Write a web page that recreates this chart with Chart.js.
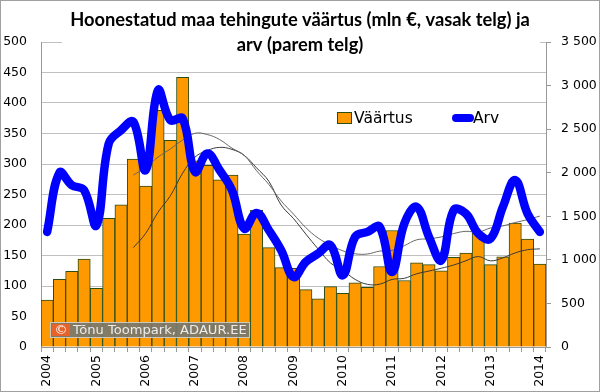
<!DOCTYPE html>
<html>
<head>
<meta charset="utf-8">
<script src="https://cdn.jsdelivr.net/npm/chart.js@4"></script>
<style>
  html, body { margin: 0; padding: 0; background: #fff; }
  #wrap { width: 600px; height: 392px; }
</style>
</head>
<body>
<div id="wrap"><canvas id="chart" width="600" height="392"></canvas></div>
<script>
// quarters 2004 Q1 .. 2014 Q1
const quarters = [
  '2004 Q1','2004 Q2','2004 Q3','2004 Q4',
  '2005 Q1','2005 Q2','2005 Q3','2005 Q4',
  '2006 Q1','2006 Q2','2006 Q3','2006 Q4',
  '2007 Q1','2007 Q2','2007 Q3','2007 Q4',
  '2008 Q1','2008 Q2','2008 Q3','2008 Q4',
  '2009 Q1','2009 Q2','2009 Q3','2009 Q4',
  '2010 Q1','2010 Q2','2010 Q3','2010 Q4',
  '2011 Q1','2011 Q2','2011 Q3','2011 Q4',
  '2012 Q1','2012 Q2','2012 Q3','2012 Q4',
  '2013 Q1','2013 Q2','2013 Q3','2013 Q4',
  '2014 Q1'
];

// Väärtus, mln € (left axis)
const vaartus = [
  77, 111, 124, 144,
  96, 211, 233, 308,
  264, 388, 339, 442,
  305, 298, 274, 282,
  185, 224, 163, 130,
  129, 94, 79, 99,
  88, 105, 98, 132,
  191, 109, 138, 135,
  125, 147, 154, 187,
  135, 148, 203, 177,
  136
];

// Arv, tehingute arv (right axis)
const arv = [
  1321, 2000, 1857, 1800,
  1397, 2335, 2488, 2584,
  2029, 2948, 2603, 2622,
  2010, 2220, 2029, 1800,
  1359, 1539, 1340, 1110,
  804, 976, 1072, 1168,
  823, 1263, 1321, 1378,
  861, 1417, 1608, 1263,
  995, 1570, 1531, 1302,
  1244, 1608, 1914, 1531,
  1321
];

const leftTicks = [0, 50, 100, 150, 200, 250, 300, 350, 400, 450, 500];
const rightTicks = [0, 500, 1000, 1500, 2000, 2500, 3000, 3500];

const titleLines = ['Hoonestatud maa tehingute väärtus (mln €, vasak telg) ja', 'arv (parem telg)'];
const watermark = 'Tõnu Toompark, ADAUR.EE';

// Excel style 8 period moving average trendline
function movingAvg(arr, n) {
  return arr.map((v, i) => {
    if (i < n - 1) return null;
    let s = 0;
    for (let k = i - n + 1; k <= i; k++) s += arr[k];
    return s / n;
  });
}

const tickFont = { family: 'DejaVu Sans', size: 12.5 };

function fmtSpace(v) {
  if (v < 1000) return String(v);
  return Math.floor(v / 1000) + ' ' + String(v % 1000).padStart(3, '0');
}

const extras = {
  id: 'extras',
  afterDraw(chart) {
    const ctx = chart.ctx;
    ctx.save();

    // title box covers top gridline
    ctx.fillStyle = '#fff';
    ctx.fillRect(62, 1, 478, 56);
    ctx.fillStyle = '#000';
    ctx.font = 'bold 16px Lato';
    let tw = ctx.measureText(titleLines[0]).width;
    ctx.font = 'bold ' + (16 * 460 / tw) + 'px Lato';
    ctx.textAlign = 'center';
    ctx.textBaseline = 'middle';
    ctx.fillText(titleLines[0], 300, 20);
    ctx.fillText(titleLines[1], 300, 45);

    // legend
    ctx.fillStyle = '#FF9900';
    ctx.strokeStyle = '#2a4d14';
    ctx.lineWidth = 1;
    ctx.fillRect(337.5, 112.5, 14, 11);
    ctx.strokeRect(337.5, 112.5, 14, 11);
    ctx.fillStyle = '#000';
    ctx.font = '15.5px "DejaVu Sans"';
    ctx.textAlign = 'left';
    ctx.textBaseline = 'middle';
    ctx.fillText(chart.data.datasets[3].label, 354, 118.5);
    ctx.strokeStyle = '#0000FF';
    ctx.lineWidth = 8;
    ctx.lineCap = 'round';
    ctx.beginPath();
    ctx.moveTo(456, 118);
    ctx.lineTo(470, 118);
    ctx.stroke();
    ctx.fillText(chart.data.datasets[0].label, 473, 118.5);

    // copyright stamp
    ctx.fillStyle = 'rgba(120,120,110,0.92)';
    ctx.fillRect(50, 322, 200, 16);
    ctx.strokeStyle = '#c9c9c0';
    ctx.lineWidth = 1;
    ctx.strokeRect(50.5, 322.5, 199, 15);
    ctx.fillStyle = '#e8632b';
    ctx.fillRect(52, 324, 18, 12);
    ctx.fillStyle = '#fff';
    ctx.font = '13px "DejaVu Sans"';
    ctx.textAlign = 'center';
    ctx.fillText('©', 61, 330.5);
    ctx.textAlign = 'left';
    let fs = 14;
    ctx.font = fs + 'px "DejaVu Sans"';
    const w = ctx.measureText(watermark).width;
    fs = fs * 174 / w;
    ctx.font = fs + 'px "DejaVu Sans"';
    ctx.fillStyle = '#ececec';
    ctx.fillText(watermark, 73, 330.5);

    // outer frame
    ctx.strokeStyle = '#a0a0a0';
    ctx.lineWidth = 1;
    ctx.strokeRect(0.5, 0.5, 599, 391);
    ctx.restore();
  }
};

const ctx = document.getElementById('chart').getContext('2d');
new Chart(ctx, {
  data: {
    labels: quarters,
    datasets: [
      {
        type: 'line',
        label: 'Arv',
        data: arv,
        yAxisID: 'y1',
        borderColor: '#0000FF',
        borderWidth: 8.5,
        pointRadius: 0,
        tension: 0.4,
        borderCapStyle: 'round',
        borderJoinStyle: 'round',
        order: 0
      },
      {
        type: 'line',
        label: 'Arv trend',
        data: movingAvg(arv, 8),
        yAxisID: 'y1',
        borderColor: '#666',
        borderWidth: 1,
        pointRadius: 0,
        tension: 0.4,
        order: 1
      },
      {
        type: 'line',
        label: 'Väärtus trend',
        data: movingAvg(vaartus, 8),
        yAxisID: 'y',
        borderColor: '#3a3a3a',
        borderWidth: 1,
        pointRadius: 0,
        tension: 0.4,
        order: 1
      },
      {
        type: 'bar',
        label: 'Väärtus',
        data: vaartus,
        yAxisID: 'y',
        backgroundColor: '#FF9900',
        borderColor: '#2a4d14',
        borderWidth: 1,
        barPercentage: 1,
        categoryPercentage: 1,
        order: 2
      }
    ]
  },
  options: {
    responsive: false,
    animation: false,
    layout: { padding: { top: 42, left: 0, right: 0, bottom: 0 } },
    plugins: {
      legend: { display: false },
      title: { display: false },
      tooltip: { enabled: false }
    },
    scales: {
      x: {
        type: 'category',
        offset: true,
        grid: { offset: true, drawOnChartArea: false, drawTicks: true, tickLength: 5, color: '#999' },
        border: { color: '#999' },
        ticks: {
          autoSkip: false,
          maxRotation: 90,
          minRotation: 90,
          padding: 3,
          color: '#000',
          font: tickFont,
          callback: (v, i) => (i % 4 === 0 ? quarters[i].slice(0, 4) : '')
        },
        afterFit: (s) => { s.height = 45; }
      },
      y: {
        position: 'left',
        min: 0,
        max: 500,
        afterBuildTicks: (s) => { s.ticks = leftTicks.map(v => ({ value: v })); },
        grid: { color: '#c0c0c0', drawTicks: false },
        border: { color: '#999' },
        ticks: { padding: 14, color: '#000', font: tickFont },
        afterFit: (s) => { s.width = 41; }
      },
      y1: {
        position: 'right',
        min: 0,
        max: 3500,
        afterBuildTicks: (s) => { s.ticks = rightTicks.map(v => ({ value: v })); },
        grid: { drawOnChartArea: false, drawTicks: true, tickLength: 5, color: '#999' },
        border: { color: '#999' },
        ticks: { padding: 10, color: '#000', font: tickFont, callback: (v) => fmtSpace(v) },
        afterFit: (s) => { s.width = 54; }
      }
    }
  },
  plugins: [extras]
});
</script>
</body>
</html>
